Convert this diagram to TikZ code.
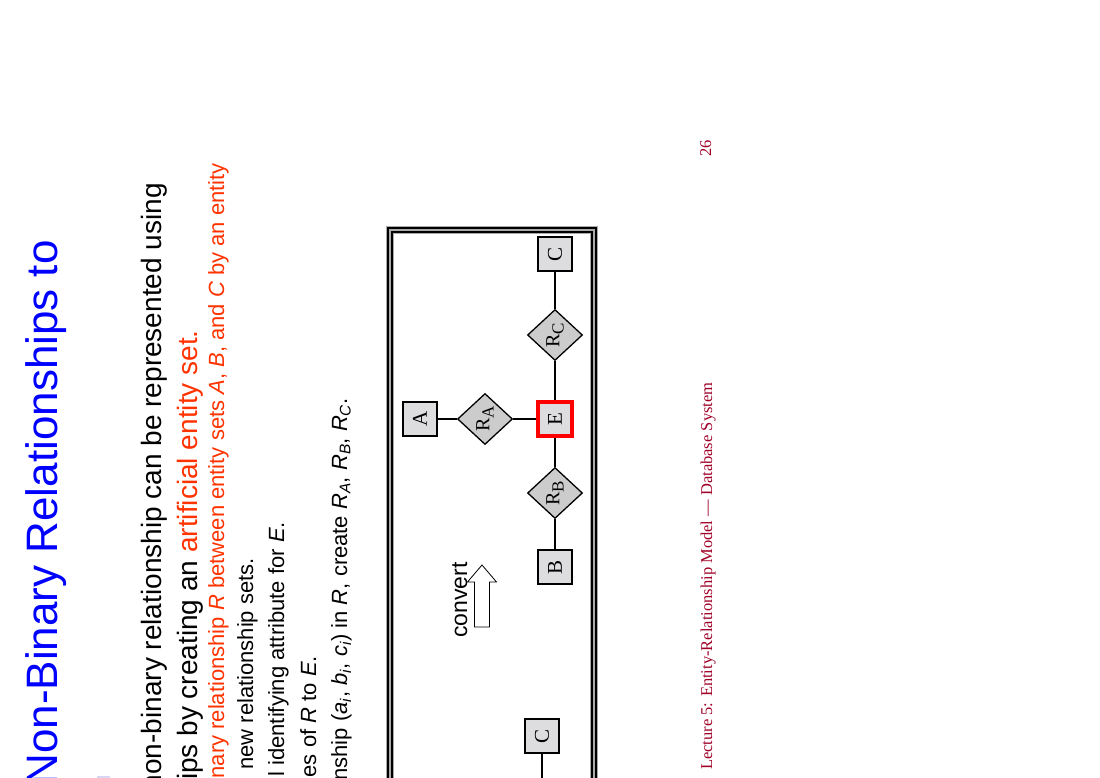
\documentclass[tikz,border=0pt]{standalone}
\usepackage{fontspec}
\setmainfont{Liberation Serif}
\newfontfamily\slidefont{Liberation Sans}
\definecolor{titleblue}{RGB}{0, 0, 255}
\definecolor{hilite}{RGB}{255, 51, 0}
\definecolor{footred}{RGB}{160, 0, 40}
\definecolor{entgray}{RGB}{221, 221, 224}
\definecolor{relgray}{RGB}{204, 204, 204}
\definecolor{framegray}{RGB}{170, 170, 170}
\definecolor{bulletblue}{RGB}{215, 215, 245}
\usetikzlibrary{shapes,arrows,positioning,calc}
\newcommand{\relsub}[1]{\raisebox{-0.45ex}{\fontsize{17}{17}\selectfont #1}}

\begin{document}
\begin{tikzpicture}[x=1pt, y=-1pt,
    entity/.style={rectangle, draw, line width=1.3pt, fill=entgray, minimum size=34pt, inner sep=0pt, rotate=90, font=\fontsize{21}{21}\selectfont},
    rel/.style={diamond, draw, line width=1.3pt, fill=relgray, minimum width=51pt, minimum height=55pt, inner sep=0pt, rotate=90, font=\fontsize{20}{20}\selectfont},
    textline/.style={rotate=90, anchor=base east, inner sep=0pt, font=\slidefont\fontsize{22}{22}\selectfont},
    link/.style={line width=1.3pt}]
    \useasboundingbox (0,0) rectangle (1100,778);
    \fill[white] (0,0) rectangle (1100,778);
    \clip (0,0) rectangle (1100,778);

    % Title and bullet text
    \node[textline, titleblue, font=\slidefont\fontsize{44}{44}\selectfont] (title) at (57,240) {Non-Binary Relationships to};
    \fill[bulletblue] (97,776) rectangle (110,790);
    \node[textline, font=\slidefont\fontsize{28}{28}\selectfont] (lineA) at (161,183) {non-binary relationship can be represented using};
    \node[textline, font=\slidefont\fontsize{28}{28}\selectfont] (lineB) at (197,330) {ips by creating an \textcolor{hilite}{artificial entity set.}};
    \node[textline, hilite] (lineC) at (224,163) {nary relationship \textit{R} between entity sets \textit{A}, \textit{B}, and \textit{C} by an entity};
    \node[textline] (lineD) at (253,558) {new relationship sets.};
    \node[textline] (lineE) at (284,522) {l identifying attribute for \textit{E}.};
    \node[textline] (lineF) at (316,656) {es of \textit{R} to \textit{E}.};
    \node[textline] (lineG) at (347,398) {nship (\textit{a}\textsubscript{\textit{i}}, \textit{b}\textsubscript{\textit{i}}, \textit{c}\textsubscript{\textit{i}}) in \textit{R}, create \textit{R}\textsubscript{\textit{A}}, \textit{R}\textsubscript{\textit{B}}, \textit{R}\textsubscript{\textit{C}}.};

    % Figure frame
    \draw[framegray, line width=8pt] (390,230) rectangle (594,800);
    \draw[black, line width=6pt] (390,230) rectangle (594,800);
    \draw[framegray, line width=2.4pt] (390,230) rectangle (594,800);

    % E-R diagram
    \node[entity] (cOld) at (542,736) {C};
    \coordinate (rOld) at (542,800);
    \node[textline, anchor=base, font=\slidefont\fontsize{23}{23}\selectfont] (conv) at (467,600) {convert};
    \draw[fill=white, line width=0.8pt] (482,565) -- (496.5,582) -- (489.5,582) -- (489.5,627) -- (474.5,627) -- (474.5,582) -- (467.5,582) -- cycle;

    \node[entity] (cTop) at (555,254) {C};
    \node[rel] (rC) at (555,335) {R\relsub{C}};
    \node[entity, draw=red, line width=3.5pt] (eNew) at (555,419) {E};
    \node[rel] (rA) at (485,419) {R\relsub{A}};
    \node[entity] (aEnt) at (420,419) {A};
    \node[rel] (rB) at (555,493) {R\relsub{B}};
    \node[entity] (bEnt) at (555,567) {B};

    \draw[link] (cOld) -- (rOld);
    \draw[link] (cTop) -- (rC);
    \draw[link] (rC) -- (eNew);
    \draw[link] (eNew) -- (rA);
    \draw[link] (rA) -- (aEnt);
    \draw[link] (eNew) -- (rB);
    \draw[link] (rB) -- (bEnt);

    % Footer
    \node[textline, anchor=base west, footred, font=\fontsize{16.5}{16.5}\selectfont] (foot) at (712,770) {Lecture 5: Entity-Relationship Model --- Database System};
    \node[textline, footred, font=\fontsize{16.5}{16.5}\selectfont] (page) at (711,140) {26};
\end{tikzpicture}
\end{document}
